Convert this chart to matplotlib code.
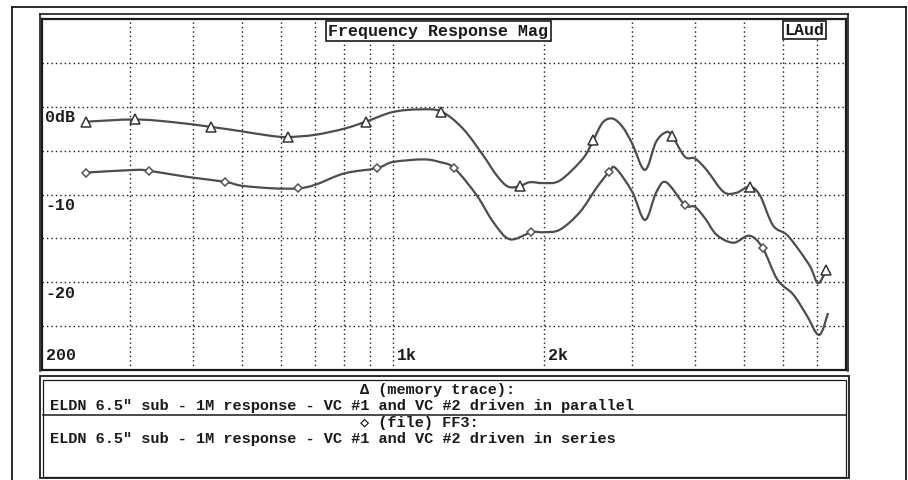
import numpy as np
import matplotlib
matplotlib.use("Agg")
import matplotlib.pyplot as plt
from matplotlib.patches import Rectangle, PathPatch
from matplotlib.lines import Line2D
from matplotlib.path import Path

# parallel drive (memory trace, triangles)
par_freq = [245, 306, 364, 435, 500, 569, 617, 700, 800, 884, 1000, 1133, 1250,
            1380, 1512, 1610, 1696, 1790, 1875, 2000, 2154, 2393, 2510, 2620,
            2742, 2870, 3000, 3180, 3347, 3504, 3600, 3820, 4000, 4220, 4560,
            4840, 5140, 5390, 5720, 6100, 6480, 6800, 7040, 7310]
par_db = [-1.7, -1.45, -1.75, -2.3, -2.8, -3.3, -3.45, -3.2, -2.5, -1.7, -0.6,
          -0.3, -0.55, -2.5, -5.5, -7.8, -9.1, -9.05, -8.6, -8.7, -8.4, -5.9,
          -3.8, -1.8, -1.35, -2.3, -4.2, -7.2, -4.0, -2.9, -3.3, -5.7, -5.9,
          -7.2, -9.7, -9.8, -9.1, -10.1, -13.5, -14.6, -16.5, -18.3, -20.1, -18.6]
par_mark_freq = [245, 306, 435, 617, 884, 1250, 1790, 2510, 3600, 5140, 7310]
par_mark_db = [-1.7, -1.45, -2.3, -3.45, -1.7, -0.55, -9.05, -3.8, -3.3, -9.1, -18.6]

# series drive (file FF3, diamonds)
ser_freq = [245, 306, 327, 390, 463, 500, 578, 648, 700, 800, 930, 1000, 1150,
            1240, 1326, 1470, 1584, 1710, 1888, 2000, 2154, 2360, 2550, 2700,
            2780, 3000, 3180, 3347, 3504, 3820, 4000, 4200, 4420, 4770, 5140,
            5460, 5840, 6280, 6670, 7070, 7370]
ser_db = [-7.5, -7.2, -7.3, -8.0, -8.55, -9.0, -9.3, -9.3, -8.9, -7.6, -7.0,
          -6.3, -6.0, -6.3, -7.0, -10.1, -13.1, -15.1, -14.3, -14.3, -14.0,
          -12.0, -9.2, -7.4, -7.0, -9.7, -12.9, -9.8, -8.6, -11.2, -11.4, -12.8,
          -14.6, -15.5, -14.7, -16.1, -19.7, -21.4, -23.7, -26.0, -23.5]
ser_mark_freq = [245, 327, 463, 648, 930, 1326, 1888, 2700, 3820, 5460]
ser_mark_db = [-7.5, -7.3, -8.55, -9.3, -7.0, -7.0, -14.3, -7.4, -11.2, -16.1]

vgrid = [300, 400, 500, 600, 700, 800, 900, 1000, 2000, 3000, 4000, 5000, 6000, 7000]
hgrid = [-25, -20, -15, -10, -5, 0, 5]
db_labels = [(0, "0dB"), (-10, "-10"), (-20, "-20")]
freq_labels = [(200, "200"), (1000, "1k"), (2000, "2k")]

title = "Frequency Response Mag"
legend_lines = ["\u0394 (memory trace):",
                'ELDN 6.5" sub - 1M response - VC #1 and VC #2 driven in parallel',
                "\u25c7 (file) FF3:",
                'ELDN 6.5" sub - 1M response - VC #1 and VC #2 driven in series']

W, H = 908, 481
mono = ["Liberation Mono", "DejaVu Sans Mono"]
ink = "#1a1a1a"
trace = "#4d4d4d"
fs = 12
fs_leg = 11


def fx(px):
    return px / W


def fy(py):
    return 1 - py / H


def smooth_trace(freq, db):
    # bezier path through the read points (catmull-rom in log-f space)
    lx = np.log10(freq)
    y = np.asarray(db, dtype=float)
    verts = [(freq[0], y[0])]
    codes = [Path.MOVETO]
    n = len(lx)
    for i in range(n - 1):
        x0, y0 = (lx[i - 1], y[i - 1]) if i > 0 else (lx[i], y[i])
        x3, y3 = (lx[i + 2], y[i + 2]) if i + 2 < n else (lx[i + 1], y[i + 1])
        c1 = (lx[i] + (lx[i + 1] - x0) / 6, y[i] + (y[i + 1] - y0) / 6)
        c2 = (lx[i + 1] - (x3 - lx[i]) / 6, y[i + 1] - (y3 - y[i]) / 6)
        verts += [(10 ** c1[0], c1[1]), (10 ** c2[0], c2[1]), (freq[i + 1], y[i + 1])]
        codes += [Path.CURVE4] * 3
    return Path(verts, codes)


fig = plt.figure(figsize=(W / 100, H / 100), dpi=100)

# outer frame
fig.add_artist(Line2D([fx(12), fx(12)], [fy(8), 0], color=ink, lw=1.3))
fig.add_artist(Line2D([fx(906), fx(906)], [fy(8), 0], color=ink, lw=1.3))
fig.add_artist(Line2D([fx(12), fx(906)], [fy(8), fy(8)], color=ink, lw=1.3))

ax = fig.add_axes([fx(42), fy(371), fx(846 - 42), (371 - 20) / H])
ax.set_xscale("log")
ax.set_xlim(200, 8000)
ax.set_ylim(-30, 10)
ax.set_xticks([])
ax.set_yticks([])
ax.minorticks_off()
for s in ax.spines.values():
    s.set_linewidth(1.6)
    s.set_color(ink)

for f in vgrid:
    ax.axvline(f, color=ink, lw=1.0, ls=(0, (1, 2.2)), zorder=1)
for d in hgrid:
    ax.axhline(d, color=ink, lw=1.0, ls=(0, (1, 2.2)), zorder=1)

ax.add_patch(PathPatch(smooth_trace(par_freq, par_db), fill=False, ec=trace,
                       lw=1.6, zorder=3))
ax.add_patch(PathPatch(smooth_trace(ser_freq, ser_db), fill=False, ec=trace,
                       lw=1.6, zorder=3))
ax.plot(par_mark_freq, par_mark_db, ls="none", marker="^", ms=7, mfc="white",
        mec="#333333", mew=1.1, zorder=4)
ax.plot(ser_mark_freq, ser_mark_db, ls="none", marker="D", ms=4.5, mfc="white",
        mec="#555555", mew=1.1, zorder=4)

for d, lab in db_labels:
    ax.text(203, d - 0.3, lab, family=mono, fontsize=fs, fontweight="bold",
            color=ink, va="top", ha="left", zorder=5)
for f, lab in freq_labels:
    ax.text(f * 1.02, -28.2, lab, family=mono, fontsize=fs, fontweight="bold",
            color=ink, va="center", ha="left", zorder=5)

ax.text(0.493, 0.966, title, transform=ax.transAxes, family=mono, fontsize=fs,
        fontweight="bold", color=ink, ha="center", va="center", zorder=6,
        bbox=dict(boxstyle="square,pad=0.15", fc="white", ec=ink, lw=1.2))
ax.text(0.948, 0.969, "LAud", transform=ax.transAxes, family=mono, fontsize=fs,
        fontweight="bold", color=ink, ha="center", va="center", zorder=6,
        bbox=dict(boxstyle="square,pad=0.1", fc="white", ec=ink, lw=1.2))

# double line above the plot
fig.add_artist(Line2D([fx(40), fx(848)], [fy(15), fy(15)], color=ink, lw=1.2))
fig.add_artist(Line2D([fx(40), fx(40)], [fy(15), fy(372)], color=ink, lw=1.2))
fig.add_artist(Line2D([fx(848), fx(848)], [fy(15), fy(372)], color=ink, lw=1.2))

# legend panel
fig.add_artist(Rectangle((fx(40), fy(479)), fx(849 - 40), (479 - 377) / H,
                         fill=False, ec=ink, lw=1.3))
fig.add_artist(Rectangle((fx(43), fy(478)), fx(846 - 43), (478 - 381) / H,
                         fill=False, ec=ink, lw=0.9))
fig.add_artist(Line2D([fx(43), fx(846)], [fy(416), fy(416)], color=ink, lw=1.1))

leg_pos = [(360, 390), (50, 406), (360, 423), (50, 439)]
for (px, py), line in zip(leg_pos, legend_lines):
    fig.text(fx(px), fy(py), line, family=mono, fontsize=fs_leg, fontweight="bold",
             color=ink, ha="left", va="center")

fig.savefig("out.png", dpi=100, facecolor="white")
